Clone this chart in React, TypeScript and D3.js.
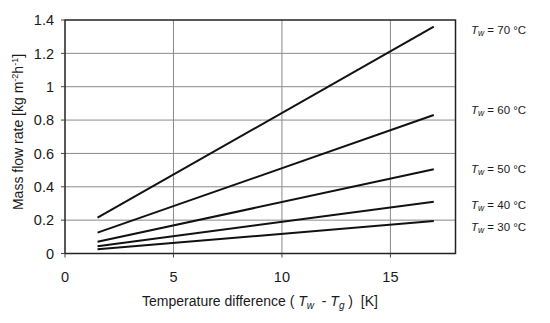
import React from "react";
import * as d3 from "d3";

const xStart = 1.5;
const xEnd = 17;
const seriesNames = ["70", "60", "50", "40", "30"];
const startValues = [0.215, 0.125, 0.07, 0.044, 0.025];
const endValues = [1.36, 0.83, 0.505, 0.31, 0.195];
const labelValues = [1.34, 0.86, 0.51, 0.29, 0.16];
const xTicks = [0, 5, 10, 15];
const yTicks = [0, 0.2, 0.4, 0.6, 0.8, 1, 1.2, 1.4];

const W = 550, H = 323;
const M = { left: 65, right: 94.5, top: 20, bottom: 69.5 };

export default function App() {
  const x = d3.scaleLinear().domain([0, 18]).range([M.left, W - M.right]);
  const y = d3.scaleLinear().domain([0, 1.4]).range([H - M.bottom, M.top]);
  const line = d3.line<[number, number]>().x(d => x(d[0])).y(d => y(d[1]));
  const font = "'Liberation Sans', Arial, sans-serif";
  return (
    <svg width={W} height={H} style={{ position: "absolute", left: 0, top: 0 }} fontFamily={font}>
      <rect width={W} height={H} fill="#fff" />
      {yTicks.slice(1, -1).map(t => (
        <line key={"gy" + t} x1={x(0)} x2={x(18)} y1={y(t)} y2={y(t)} stroke="#8a8a8a" strokeWidth={1} />
      ))}
      {xTicks.slice(1).map(t => (
        <line key={"gx" + t} x1={x(t)} x2={x(t)} y1={y(0)} y2={y(1.4)} stroke="#8a8a8a" strokeWidth={1} />
      ))}
      <rect x={x(0)} y={y(1.4)} width={x(18) - x(0)} height={y(0) - y(1.4)} fill="none" stroke="#222" strokeWidth={1.5} />
      {yTicks.map(t => (
        <g key={"ty" + t}>
          <line x1={x(0) - 4} x2={x(0)} y1={y(t)} y2={y(t)} stroke="#444" strokeWidth={1} />
          <text x={x(0) - 11} y={y(t)} dy="0.36em" textAnchor="end" fontSize={14.5} fill="#1a1a1a">{d3.format("~g")(t)}</text>
        </g>
      ))}
      {xTicks.map(t => (
        <g key={"tx" + t}>
          <line x1={x(t)} x2={x(t)} y1={y(0)} y2={y(0) + 4} stroke="#444" strokeWidth={1} />
          <text x={x(t)} y={y(0) + 28} textAnchor="middle" fontSize={14.5} fill="#1a1a1a">{t}</text>
        </g>
      ))}
      {seriesNames.map((n, i) => (
        <path key={"l" + n} d={line([[xStart, startValues[i]], [xEnd, endValues[i]]]) || ""} fill="none" stroke="#111" strokeWidth={2} />
      ))}
      {seriesNames.map((n, i) => (
        <text key={"lab" + n} x={471} y={y(labelValues[i])} dy="0.36em" fontSize={11.5} fill="#1a1a1a">
          <tspan fontStyle="italic">T</tspan>
          <tspan fontStyle="italic" fontSize={8.5} dy="2">w</tspan>
          <tspan dy="-2">{"\u00a0= " + n + " °C"}</tspan>
        </text>
      ))}
      <text x={260} y={306} textAnchor="middle" fontSize={14} fill="#1a1a1a">
        {"Temperature difference (\u00a0"}<tspan fontStyle="italic">T</tspan>
        <tspan fontStyle="italic" fontSize={10} dy="3">w</tspan>
        <tspan dy="-3">{"\u00a0\u00a0- "}</tspan>
        <tspan fontStyle="italic">T</tspan>
        <tspan fontStyle="italic" fontSize={10} dy="3">g</tspan>
        <tspan dy="-3">{"\u00a0)\u00a0\u00a0[K]"}</tspan>
      </text>
      <text transform={`translate(23,${132}) rotate(-90)`} textAnchor="middle" fontSize={14} fill="#1a1a1a">
        Mass flow rate [kg m<tspan fontSize={9} dy="-5">-2</tspan><tspan dy="5">h</tspan><tspan fontSize={9} dy="-5">-1</tspan><tspan dy="5">]</tspan>
      </text>
    </svg>
  );
}
